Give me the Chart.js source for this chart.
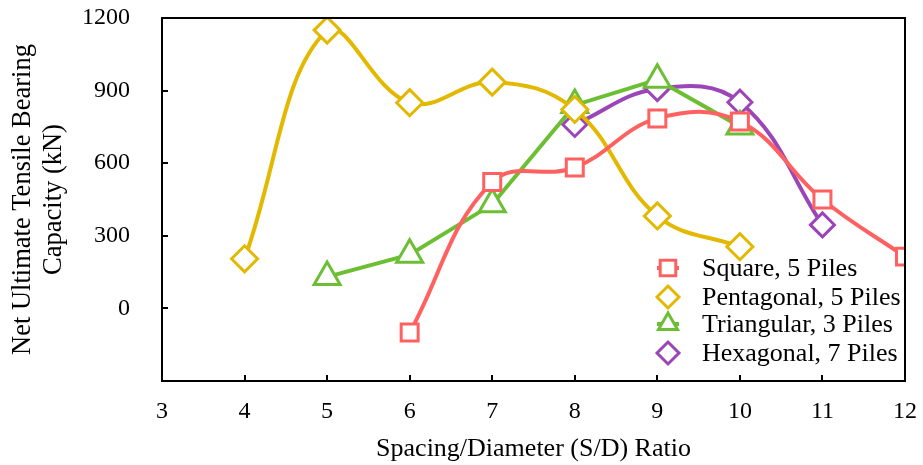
<!DOCTYPE html>
<html><head><meta charset="utf-8">
<script src="https://cdn.jsdelivr.net/npm/chart.js@4"></script>
<style>html,body{margin:0;padding:0;background:#fff}#w{width:923px;height:465px}</style>
</head><body><div id="w"><canvas id="c"></canvas></div>
<script>
const xSquare = [6, 7, 8, 9, 10, 11, 12];
const ySquare = [-100, 522, 582, 785, 772, 450, 214];
const xPenta = [4, 5, 6, 7, 8, 9, 10];
const yPenta = [205, 1150, 850, 935, 822, 382, 255];
const xTri = [5, 6, 7, 8, 9, 10];
const yTri = [130, 222, 430, 840, 945, 752];
const xHexa = [8, 9, 10, 11];
const yHexa = [760, 908, 852, 345];
const seriesNames = ["Square, 5 Piles", "Pentagonal, 5 Piles", "Triangular, 3 Piles", "Hexagonal, 7 Piles"];
const xTicks = [3, 4, 5, 6, 7, 8, 9, 10, 11, 12];
const yTicks = [0, 300, 600, 900, 1200];

const colors = ["#FF6161", "#E3B800", "#6CBE33", "#9B45B8"];
const styles = ["rect", "rectRot", "triangle", "rectRot"];
const radii = [12, 13, 15, 12];
const legRadii = [11, 11, 11, 11];
const tensions = [0.4, 0.4, 0, 0.4];
const xs = [xSquare, xPenta, xTri, xHexa];
const ys = [ySquare, yPenta, yTri, yHexa];

const FONT = "'Liberation Serif', 'Times New Roman', serif";

const datasets = seriesNames.map((n, i) => ({
  label: n,
  data: xs[i].map((x, j) => ({x: x, y: ys[i][j]})),
  borderColor: colors[i],
  backgroundColor: "#ffffff",
  pointBackgroundColor: "#ffffff",
  pointBorderColor: colors[i],
  pointBorderWidth: 3,
  pointStyle: styles[i],
  pointRadius: radii[i],
  borderWidth: 4,
  tension: tensions[i],
  fill: false,
  order: i + 1
}));

function noPad(s) { s.paddingTop = 0; s.paddingBottom = 0; s.paddingLeft = 0; s.paddingRight = 0; }

const frame = {
  id: 'frame',
  afterDraw(chart) {
    const ctx = chart.ctx, a = chart.chartArea;
    const xs_ = chart.scales.x, ys_ = chart.scales.y;
    ctx.save();
    ctx.strokeStyle = "#000"; ctx.lineWidth = 2;
    ctx.strokeRect(a.left, a.top, a.right - a.left, a.bottom - a.top);
    ctx.beginPath();
    xTicks.forEach(v => { const p = Math.round(xs_.getPixelForValue(v)); ctx.moveTo(p, a.bottom); ctx.lineTo(p, a.bottom - 6); });
    yTicks.forEach(v => { const p = Math.round(ys_.getPixelForValue(v)); ctx.moveTo(a.left, p); ctx.lineTo(a.left + 6, p); });
    ctx.stroke();
    // legend
    const lx = 668, ly = [268, 297, 324, 353];
    ctx.font = "26px " + FONT;
    ctx.textBaseline = "middle"; ctx.textAlign = "left";
    seriesNames.forEach((n, i) => {
      ctx.strokeStyle = colors[i]; ctx.lineWidth = 4;
      ctx.beginPath(); ctx.moveTo(lx - 11, ly[i]); ctx.lineTo(lx + 11, ly[i]); ctx.stroke();
      ctx.lineWidth = 3; ctx.fillStyle = "#fff";
      Chart.helpers.drawPoint(ctx, {pointStyle: styles[i], radius: legRadii[i], borderWidth: 3, rotation: 0}, lx, ly[i]);
      ctx.fillStyle = "#000";
      ctx.fillText(n, 702, ly[i] + 1);
    });
    ctx.restore();
  }
};

new Chart(document.getElementById('c'), {
  type: 'line',
  data: {datasets},
  options: {
    responsive: true, maintainAspectRatio: false, animation: false,
    layout: {padding: {left: 0, right: 8, top: 16, bottom: 0}},
    plugins: {legend: {display: false}, tooltip: {enabled: false}},
    scales: {
      x: {
        type: 'linear', min: 3, max: 12,
        afterFit(s) { s.height = 84; noPad(s); },
        afterBuildTicks(s) { s.ticks = xTicks.map(v => ({value: v})); },
        grid: {display: false, drawTicks: false},
        border: {display: false},
        ticks: {color: "#000", font: {family: FONT, size: 24}, padding: 16},
        title: {display: true, text: "Spacing/Diameter (S/D) Ratio", color: "#000", font: {family: FONT, size: 26}, padding: {top: 4, bottom: 0}}
      },
      y: {
        min: -300, max: 1200,
        afterFit(s) { s.width = 162; noPad(s); },
        afterBuildTicks(s) { s.ticks = [-300].concat(yTicks).map(v => ({value: v})); },
        grid: {display: false, drawTicks: false},
        border: {display: false},
        ticks: {color: "#000", font: {family: FONT, size: 24}, padding: 32,
          callback: v => v < 0 ? "" : String(v)},
        title: {display: true, text: ["Net Ultimate Tensile Bearing", "Capacity (kN)"], color: "#000", font: {family: FONT, size: 26.5, lineHeight: 1.17}, padding: {top: 8, bottom: 0}}
      }
    }
  },
  plugins: [frame]
});
</script>
</body></html>
